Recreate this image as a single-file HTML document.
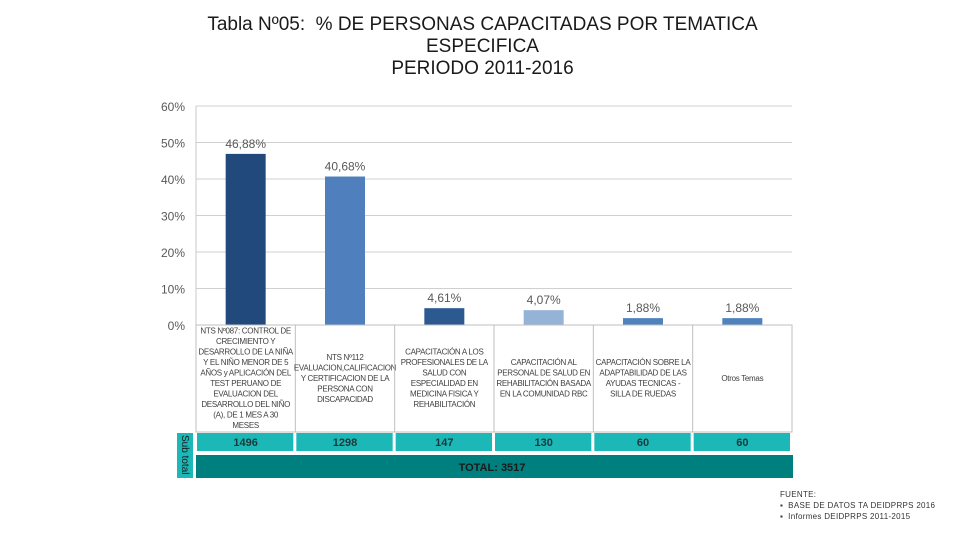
<!DOCTYPE html>
<html><head><meta charset="utf-8"><style>
body{margin:0;background:#fff;font-family:"Liberation Sans",sans-serif;}
#wrap{position:relative;width:960px;height:540px;overflow:hidden;}
.t{position:absolute;text-align:center;}
</style></head><body>
<div id="wrap">
<div class="t" style="left:100px;width:765px;top:14px;font-size:19px;line-height:22px;color:#1a1a1a;">
<span style="font-weight:normal">Tabla Nº05:&nbsp; % DE PERSONAS CAPACITADAS POR TEMATICA</span><br>ESPECIFICA<br>PERIODO 2011-2016</div>
<svg id="chart" width="960" height="540" style="position:absolute;left:0;top:0"></svg>
<div class="t" style="left:780px;top:489px;text-align:left;font-size:8px;line-height:11px;color:#333;letter-spacing:0.3px">FUENTE:<br>▪&nbsp; BASE DE DATOS TA DEIDPRPS 2016<br>▪&nbsp; Informes DEIDPRPS 2011-2015</div>
</div>
<script>
const categories=["NTS Nº087: CONTROL DE CRECIMIENTO Y DESARROLLO DE LA NIÑA Y EL NIÑO MENOR DE 5 AÑOS y APLICACIÓN DEL TEST PERUANO DE EVALUACION DEL DESARROLLO DEL NIÑO (A), DE 1 MES A 30 MESES","NTS Nº112 EVALUACION,CALIFICACION Y CERTIFICACION DE LA PERSONA CON DISCAPACIDAD","CAPACITACIÓN A LOS PROFESIONALES DE LA SALUD CON ESPECIALIDAD EN MEDICINA FISICA Y REHABILITACIÓN","CAPACITACIÓN AL PERSONAL DE SALUD EN REHABILITACIÓN BASADA EN LA COMUNIDAD RBC","CAPACITACIÓN SOBRE LA ADAPTABILIDAD DE LAS AYUDAS TECNICAS - SILLA DE RUEDAS","Otros Temas"];
const percents=[46.88,40.68,4.61,4.07,1.88,1.88];
const percentLabels=["46,88%","40,68%","4,61%","4,07%","1,88%","1,88%"];
const subtotals=[1496,1298,147,130,60,60];
const totalLabel="TOTAL: 3517";
const yTicks=[0,10,20,30,40,50,60];
const barColors=["#21497c","#4f7fbd","#2c5a90","#95b3d7","#4f81bd","#4f81bd"];
const svg=document.getElementById('chart');
const NS="http://www.w3.org/2000/svg";
const X0=196,X1=792,Y0=325,Y1=106;
const cw=(X1-X0)/categories.length;
const y=v=>Y0-(v/60)*(Y0-Y1);
const x=i=>X0+i*cw;
function mk(tag,attrs,txt){const e=document.createElementNS(NS,tag);for(const k in attrs)e.setAttribute(k,attrs[k]);if(txt!==undefined)e.textContent=txt;svg.appendChild(e);return e;}
yTicks.forEach(t=>{
 const l=mk('line',{x1:X0,x2:X1,y1:y(t),y2:y(t),stroke:'#d0d0d0','stroke-width':1});
 
 
 const tx=mk('text',{x:185,y:y(t)+5,'text-anchor':'end','font-size':12,fill:'#595959'},t+'%');
 
 
});
const ax=mk('line',{x1:X0,x2:X0,y1:Y1,y2:Y0,stroke:'#c8c8c8'});


percents.forEach((p,i)=>{
 const cx=x(i)+cw/2;
 const r=mk('rect',{x:cx-20,y:y(p),width:40,height:Y0-y(p),fill:barColors[i]});
 
 
 const t=mk('text',{x:cx,y:y(p)-6,'text-anchor':'middle','font-size':12,fill:'#595959'},percentLabels[i]);
 
 
});
const tb=mk('rect',{x:X0,y:325,width:X1-X0,height:107,fill:'#fff',stroke:'#bfbfbf'});


function wrap(s,maxc){const w=s.split(' ');const out=[];let cur='';w.forEach(wd=>{if((cur+' '+wd).trim().length>maxc&&cur){out.push(cur);cur=wd;}else cur=(cur+' '+wd).trim();});if(cur)out.push(cur);return out;}
categories.forEach((c,i)=>{
 if(i>0){const l=mk('line',{x1:x(i),x2:x(i),y1:325,y2:432,stroke:'#bfbfbf'});
 
 }
 const lines=wrap(c,21);
 const lh=10.5;const cy=378-(lines.length*lh)/2+8;
 const t=mk('text',{x:x(i)+cw/2,'text-anchor':'middle','font-size':8,'letter-spacing':-0.3,fill:'#404040'});
 
 
 lines.forEach((ln,k)=>{const s=document.createElementNS(NS,'tspan');s.setAttribute('x',x(i)+cw/2);s.setAttribute('y',cy+k*lh);s.textContent=ln;t.appendChild(s);});
 const r=mk('rect',{x:x(i)+1,y:433,width:cw-3,height:18,fill:'#1cb8b8'});
 
 
 const st=mk('text',{x:x(i)+cw/2,y:446,'text-anchor':'middle','font-size':11,'font-weight':'bold',fill:'#1a3a3a'},subtotals[i]);
 
 
});
const sl=mk('rect',{x:177,y:433,width:16,height:45,fill:'#1cb8b8'});


const slt=mk('text',{transform:'translate(182,435) rotate(90)','font-size':10,fill:'#1a1a1a'},'Sub total');


const tr=mk('rect',{x:X0,y:455,width:X1-X0+1,height:23,fill:'#007f7f'});


const tt=mk('text',{x:492,y:471,'text-anchor':'middle','font-size':11,'font-weight':'bold',fill:'#1a1a1a'},totalLabel);


</script>
</body></html>
